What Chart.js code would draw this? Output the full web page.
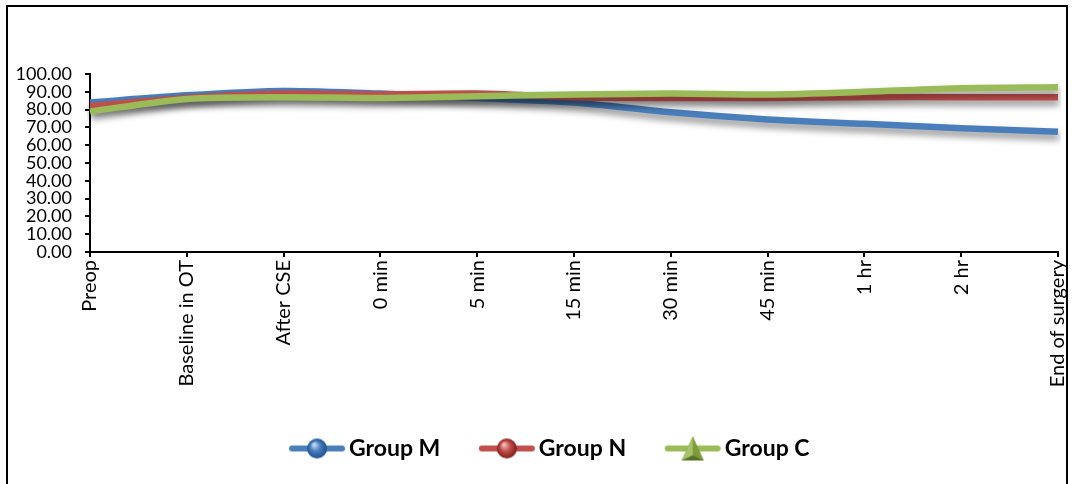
<!DOCTYPE html>
<html>
<head>
<meta charset="utf-8">
<script src="https://cdn.jsdelivr.net/npm/chart.js@4/dist/chart.umd.min.js"></script>
<style>
  html, body { margin: 0; padding: 0; background: #ffffff; }
  #wrap { position: relative; width: 1074px; height: 484px; overflow: hidden; }
  #frame { position: absolute; left: 6px; top: 5px; width: 1062px; height: 520px; border: 2px solid #000; box-sizing: border-box; pointer-events: none; }
  canvas { position: absolute; left: 0; top: 0; }
</style>
</head>
<body>
<div id="wrap">
  <canvas id="chart" width="1074" height="484"></canvas>
  <div id="frame"></div>
</div>
<script>
// Time points of the observation
const categories = ['Preop', 'Baseline in OT', 'After CSE', '0 min', '5 min', '15 min', '30 min', '45 min', '1 hr', '2 hr', 'End of surgery'];

// Mean values per group
const groupM = [84, 88, 90.5, 89, 86.5, 84, 78.5, 74.5, 72, 69.5, 67.5];
const groupN = [82, 86.5, 89, 88.5, 89, 87, 86.5, 86.5, 87, 87, 87];
const groupC = [79, 86, 87, 86.5, 87.5, 88.5, 89, 88.5, 90, 92, 92.5];

// Y axis ticks
const yTicks = [0, 10, 20, 30, 40, 50, 60, 70, 80, 90, 100];

const seriesNames = ['Group M', 'Group N', 'Group C'];
const COLORS = { m: '#4a7ebb', n: '#c0504d', c: '#9bbb59' };

// Legend swatch: short line with a shaded marker on it
function legendSwatch(color, light, dark, shape) {
  const c = document.createElement('canvas');
  c.width = 58; c.height = 26;
  const g = c.getContext('2d');
  g.strokeStyle = color; g.lineWidth = 6; g.lineCap = 'round';
  g.beginPath(); g.moveTo(4, 13); g.lineTo(54, 13); g.stroke();
  if (shape === 'sphere') {
    const grad = g.createRadialGradient(26, 9, 1, 29, 13, 10);
    grad.addColorStop(0, light);
    grad.addColorStop(0.45, color);
    grad.addColorStop(1, dark);
    g.fillStyle = grad;
    g.beginPath(); g.arc(29, 13, 10, 0, Math.PI * 2); g.fill();
  } else {
    g.fillStyle = '#6b8531';
    g.beginPath(); g.moveTo(29, 1); g.lineTo(18, 25); g.lineTo(40, 25); g.closePath(); g.fill();
    g.fillStyle = '#a7c36a';
    g.beginPath(); g.moveTo(29, 1); g.lineTo(18, 25); g.lineTo(29, 20); g.closePath(); g.fill();
    g.fillStyle = '#7d9a3c';
    g.beginPath(); g.moveTo(29, 1); g.lineTo(40, 25); g.lineTo(29, 20); g.closePath(); g.fill();
    g.fillStyle = '#58702a';
    g.beginPath(); g.moveTo(18, 25); g.lineTo(40, 25); g.lineTo(29, 20); g.closePath(); g.fill();
  }
  return c;
}

const swatches = [
  legendSwatch(COLORS.m, '#bcd6f5', '#1f4f8f', 'sphere'),
  legendSwatch(COLORS.n, '#f5b8b6', '#7e1d1b', 'sphere'),
  legendSwatch(COLORS.c, '', '', 'triangle')
];

// Soft drop shadow under each line
const lineShadow = {
  id: 'lineShadow',
  beforeDatasetDraw(chart) {
    const ctx = chart.ctx;
    ctx.save();
    ctx.shadowColor = 'rgba(0,0,0,0.45)';
    ctx.shadowBlur = 7;
    ctx.shadowOffsetX = 1;
    ctx.shadowOffsetY = 5;
  },
  afterDatasetDraw(chart) {
    chart.ctx.restore();
  }
};

// Nudge the legend block to the right of the chart centre
const legendShift = {
  id: 'legendShift',
  afterLayout(chart) {
    const lg = chart.legend;
    if (lg) { lg.left += 20; lg.right += 20; }
  }
};

function lineSet(label, data, color, order) {
  return {
    label, data,
    borderColor: color,
    backgroundColor: color,
    borderWidth: 6.5,
    pointRadius: 0,
    pointHoverRadius: 0,
    tension: 0.25,
    borderCapStyle: 'butt',
    fill: false,
    order
  };
}

new Chart(document.getElementById('chart'), {
  type: 'line',
  data: {
    labels: categories,
    datasets: [
      lineSet(seriesNames[0], groupM, COLORS.m, 3),
      lineSet(seriesNames[1], groupN, COLORS.n, 2),
      lineSet(seriesNames[2], groupC, COLORS.c, 1)
    ]
  },
  options: {
    responsive: false,
    animation: false,
    events: [],
    layout: { padding: { left: 8, right: 16, top: 74, bottom: 14 } },
    plugins: {
      tooltip: { enabled: false },
      legend: {
        position: 'bottom',
        labels: {
          usePointStyle: true,
          pointStyleWidth: 41,
          padding: 46,
          color: '#000',
          font: { family: 'Lato', size: 23, weight: 'bold' },
          generateLabels(chart) {
            return chart.data.datasets.map((ds, i) => ({
              text: ds.label,
              pointStyle: swatches[i],
              fillStyle: ds.borderColor,
              strokeStyle: ds.borderColor,
              lineWidth: 0,
              fontColor: '#000',
              hidden: false,
              datasetIndex: i
            }));
          }
        }
      }
    },
    scales: {
      x: {
        type: 'category',
        offset: false,
        afterFit(scale) {
          scale.height = 139;
          scale.paddingLeft = 0;
          scale.paddingRight = 0;
        },
        grid: { display: true, drawOnChartArea: false, drawTicks: true, tickLength: 5, color: '#000', lineWidth: 2 },
        border: { display: true, color: '#000', width: 2 },
        ticks: {
          autoSkip: false,
          minRotation: 90,
          maxRotation: 90,
          padding: 3,
          color: '#000',
          font: { family: 'Lato', size: 20 }
        }
      },
      y: {
        min: 0,
        max: 100,
        afterFit(scale) { scale.width = 82; },
        afterBuildTicks(scale) { scale.ticks = yTicks.map(v => ({ value: v })); },
        grid: { display: true, drawOnChartArea: false, drawTicks: true, tickLength: 5, color: '#000', lineWidth: 2 },
        border: { display: true, color: '#000', width: 2 },
        ticks: {
          autoSkip: false,
          padding: 13,
          color: '#000',
          font: { family: 'Lato', size: 18 },
          callback: v => Number(v).toFixed(2)
        }
      }
    }
  },
  plugins: [lineShadow, legendShift]
});
</script>
</body>
</html>
